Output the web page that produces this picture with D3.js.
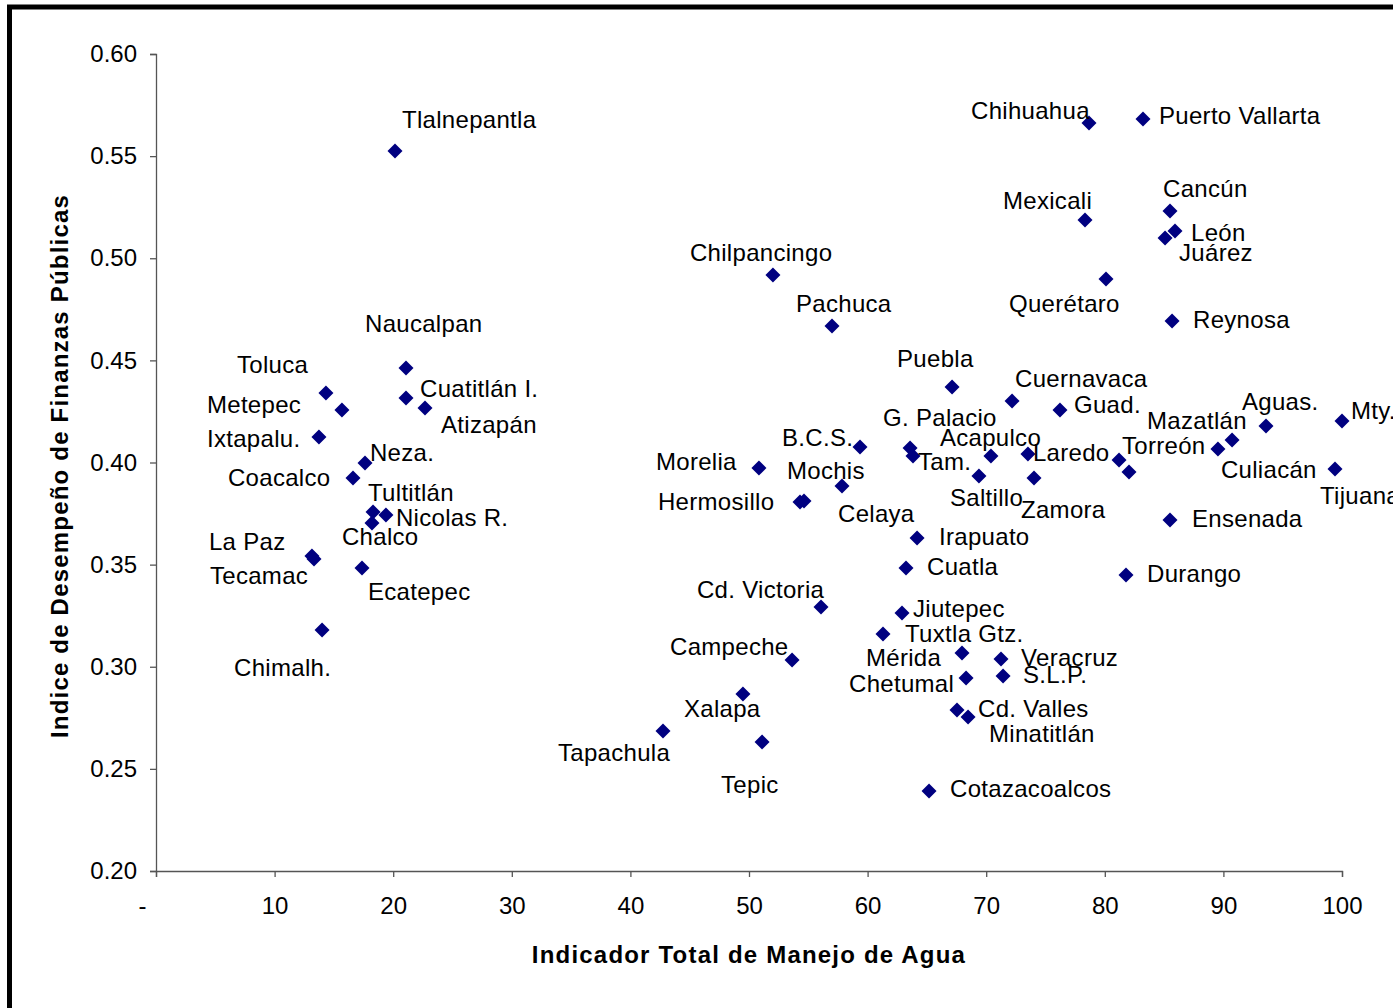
<!DOCTYPE html>
<html>
<head>
<meta charset="utf-8">
<script src="https://cdn.jsdelivr.net/npm/d3@7"></script>
<style>
  body { margin: 0; background: #fff; overflow: hidden; }
  text { font-family: "Liberation Sans", Arial, sans-serif; fill: #000; }
</style>
</head>
<body>
<div id="chart"></div>
<script>
var cities = ["Tlalnepantla", "Naucalpan", "Toluca", "Cuatitlán I.", "Metepec", "Atizapán", "Ixtapalu.", "Neza.",
  "Coacalco", "Tultitlán", "Nicolas R.", "Chalco", "La Paz", "Tecamac", "Ecatepec", "Chimalh.",
  "Chilpancingo", "Pachuca", "Puebla", "B.C.S.", "G. Palacio", "Tam.", "Acapulco", "Morelia",
  "Mochis", "Hermosillo", "Celaya", "Irapuato", "Cuatla", "Cd. Victoria", "Jiutepec", "Tuxtla Gtz.",
  "Campeche", "Mérida", "Veracruz", "Chetumal", "S.L.P.", "Cd. Valles", "Minatitlán", "Xalapa",
  "Tapachula", "Tepic", "Cotazacoalcos", "Saltillo", "Zamora", "Laredo", "Cuernavaca", "Guad.",
  "Chihuahua", "Puerto Vallarta", "Mexicali", "Cancún", "León", "Juárez", "Querétaro", "Reynosa",
  "Torreón", "", "Mazatlán", "Culiacán", "Aguas.", "Mty.", "Tijuana", "Ensenada", "Durango"];

// Indicador Total de Manejo de Agua
var water = [20.15, 21.08, 14.33, 21.08, 15.68, 22.68, 13.74, 17.62,
  16.61, 18.30, 19.39, 18.21, 13.15, 13.32, 17.37, 14.00,
  52.02, 57.00, 67.12, 59.36, 63.58, 63.83, 70.40, 50.84,
  57.84, 54.30, 54.64, 64.17, 63.24, 56.07, 62.90, 61.30,
  53.63, 67.96, 71.25, 68.30, 71.42, 67.54, 68.47, 49.49,
  42.75, 51.10, 65.18, 69.39, 74.03, 73.52, 72.18, 76.22,
  78.67, 83.22, 78.33, 85.50, 85.92, 85.08, 80.10, 85.67,
  81.20, 82.04, 90.73, 89.54, 93.59, 100.0, 99.41, 85.50, 81.79];

// Indice de Desempeño de Finanzas Públicas
var finance = [0.5525, 0.4463, 0.4340, 0.4316, 0.4257, 0.4267, 0.4125, 0.3998,
  0.3924, 0.3758, 0.3743, 0.3704, 0.3542, 0.3528, 0.3483, 0.3180,
  0.4918, 0.4668, 0.4370, 0.4076, 0.4071, 0.4032, 0.4032, 0.3973,
  0.3885, 0.3807, 0.3812, 0.3630, 0.3483, 0.3293, 0.3263, 0.3160,
  0.3033, 0.3067, 0.3038, 0.2945, 0.2955, 0.2788, 0.2754, 0.2867,
  0.2685, 0.2632, 0.2392, 0.3934, 0.3924, 0.4042, 0.4301, 0.4257,
  0.5662, 0.5682, 0.5187, 0.5231, 0.5133, 0.5099, 0.4898, 0.4693,
  0.4012, 0.3953, 0.4110, 0.4066, 0.4179, 0.4203, 0.3968, 0.3718, 0.3449];

var xTicks = [0, 10, 20, 30, 40, 50, 60, 70, 80, 90, 100];
var yTicks = [0.20, 0.25, 0.30, 0.35, 0.40, 0.45, 0.50, 0.55, 0.60];
var xTitle = "Indicador Total de Manejo de Agua";
var yTitle = "Indice de Desempeño de Finanzas Públicas";

// label layout: offset of each label (left edge, middle) from its marker, px
var labelOffsets = [[7, -31], [-41, -44], [-89, -28], [14, -9], [-135, -5], [16, 17], [-112, 2], [5, -10],
  [-125, 0], [-5, -19], [10, 3], [-30, 14], [-103, -14], [-104, 17], [6, 24], [-88, 38],
  [-83, -22], [-36, -22], [-55, -28], [-78, -9], [-27, -30], [5, 6], [-51, -18], [-103, -6],
  [-55, -15], [-142, 0], [34, 13], [22, -1], [21, -1], [-124, -17], [11, -4], [22, 0],
  [-122, -13], [-96, 5], [20, -1], [-117, 6], [20, -1], [21, -1], [21, 17], [-59, 15],
  [-105, 22], [-41, 43], [21, -2], [-29, 22], [-13, 32], [5, -1], [3, -22], [14, -5],
  [-118, -12], [16, -3], [-82, -19], [-7, -22], [16, 2], [14, 15], [-97, 25], [21, -1],
  [3, -14], [0, 0], [-85, -19], [3, 21], [-24, -24], [9, -10], [-15, 27], [22, -1], [21, -1]];

var width = 1393, height = 1008;
var plotLeft = 156, plotRight = 1342, plotTop = 54, plotBottom = 871;

var svg = d3.select("#chart").append("svg")
  .attr("width", width)
  .attr("height", height);

svg.append("rect")
  .attr("width", width).attr("height", height)
  .attr("fill", "#fff");

// outer frame (runs off the right and bottom of the picture)
svg.append("rect")
  .attr("x", 9.5).attr("y", 7)
  .attr("width", 1500).attr("height", 1100)
  .attr("fill", "none")
  .attr("stroke", "#000")
  .attr("stroke-width", 5);

var x = d3.scaleLinear().domain([0, 100]).range([plotLeft, plotRight]);
var y = d3.scaleLinear().domain([0.20, 0.60]).range([plotBottom, plotTop]);

var xAxis = svg.append("g")
  .attr("transform", "translate(0," + plotBottom + ")")
  .call(d3.axisBottom(x).tickValues(xTicks).tickSizeOuter(0).tickSize(6).tickPadding(20)
    .tickFormat(function (d) { return d === 0 ? "-" : d; }));

xAxis.selectAll("text")
  .attr("dx", function (d) { return d === 0 ? -14 : 0; });

var yAxis = svg.append("g")
  .attr("transform", "translate(" + plotLeft + ",0)")
  .call(d3.axisLeft(y).tickValues(yTicks).tickSizeOuter(0).tickSize(6).tickPadding(13)
    .tickFormat(d3.format(".2f")));

svg.selectAll(".domain, .tick line").attr("stroke", "#555").attr("stroke-width", 1.3);
svg.selectAll(".tick text")
  .style("font-family", "'Liberation Sans', Arial, sans-serif")
  .style("font-size", "24px")
  .attr("fill", "#000");

svg.append("text")
  .attr("x", 749).attr("y", 963)
  .attr("text-anchor", "middle")
  .style("font-size", "24px")
  .style("font-weight", "bold")
  .style("letter-spacing", "1.2px")
  .text(xTitle);

svg.append("text")
  .attr("transform", "translate(68," + 466 + ") rotate(-90)")
  .attr("text-anchor", "middle")
  .style("font-size", "24px")
  .style("font-weight", "bold")
  .style("letter-spacing", "1.2px")
  .text(yTitle);

var pts = d3.range(cities.length);

svg.append("g").selectAll("path")
  .data(pts)
  .enter()
  .append("path")
  .attr("d", "M0,-7.5L7.5,0L0,7.5L-7.5,0Z")
  .attr("transform", function (i) { return "translate(" + x(water[i]) + "," + y(finance[i]) + ")"; })
  .attr("fill", "#000080");

svg.append("g").selectAll("text")
  .data(pts.filter(function (i) { return cities[i] !== ""; }))
  .enter()
  .append("text")
  .attr("x", function (i) { return x(water[i]) + labelOffsets[i][0]; })
  .attr("y", function (i) { return y(finance[i]) + labelOffsets[i][1]; })
  .attr("dy", "0.35em")
  .style("font-size", "24px")
  .style("letter-spacing", "0.3px")
  .text(function (i) { return cities[i]; });
</script>
</body>
</html>
